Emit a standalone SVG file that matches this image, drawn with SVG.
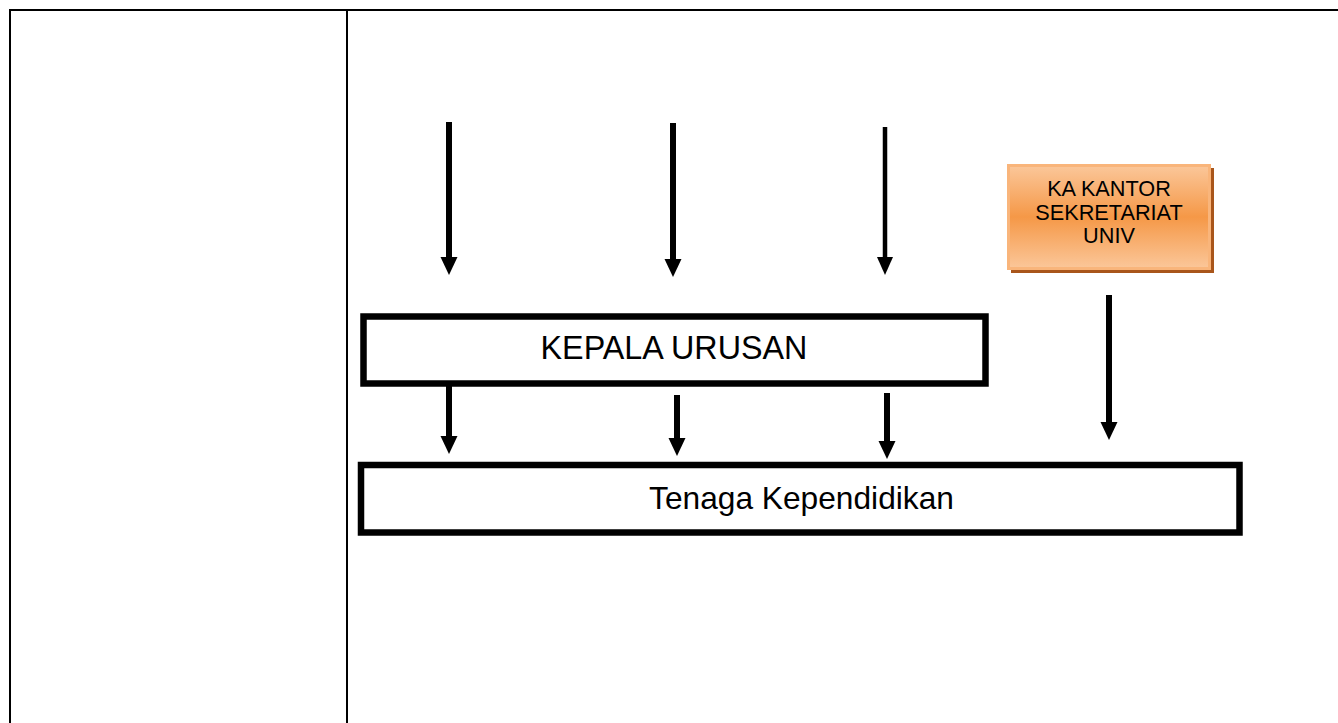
<svg xmlns="http://www.w3.org/2000/svg" width="1338" height="723" viewBox="0 0 1338 723">
<style>
.tbl{stroke:#000;stroke-width:2;fill:none}
.box{fill:#fff;stroke:#000;stroke-width:6.5}
.lbl{font-family:"Liberation Sans",Arial,sans-serif;fill:#000;text-anchor:middle}
.shaft{stroke:#000;stroke-width:6;fill:none}
.head{fill:#000}
</style>
<defs>
<linearGradient id="og" x1="0" y1="0" x2="0" y2="1">
<stop offset="0" stop-color="#fbc79a"/>
<stop offset="0.5" stop-color="#f59847"/>
<stop offset="1" stop-color="#fbc79a"/>
</linearGradient>
</defs>
<rect width="1338" height="723" fill="#fff"/>
<g id="table">
<line class="tbl" x1="10" y1="10" x2="1338" y2="10"/>
<line class="tbl" x1="10" y1="9" x2="10" y2="723"/>
<line class="tbl" x1="347" y1="9" x2="347" y2="723"/>
</g>
<g id="connectors">
<path class="shaft" d="M449,122 V258"/><path class="head" d="M440.5,257 H457.5 L449,275 Z"/>
<path class="shaft" d="M673,123 V260"/><path class="head" d="M664.5,259 H681.5 L673,277 Z"/>
<path class="shaft" d="M885,127 V258" style="stroke-width:4.5"/><path class="head" d="M877,257 H893 L885,275 Z"/>
<path class="shaft" d="M1109,295 V423"/><path class="head" d="M1100.5,422 H1117.5 L1109,440 Z"/>
<path class="shaft" d="M449,386 V437"/><path class="head" d="M440.5,436 H457.5 L449,454 Z"/>
<path class="shaft" d="M677,395 V439"/><path class="head" d="M668.5,438 H685.5 L677,456 Z"/>
<path class="shaft" d="M887,393 V442"/><path class="head" d="M878.5,441 H895.5 L887,459 Z"/>
</g>
<g id="ka-kantor">
<rect x="1011" y="168" width="203" height="105" fill="#a9561b"/>
<rect x="1008.5" y="165.5" width="201" height="103" fill="url(#og)" stroke="#f9b57b" stroke-width="3"/>
<text class="lbl" x="1109" y="196" font-size="21.7">KA KANTOR</text>
<text class="lbl" x="1109" y="219.5" font-size="21.7">SEKRETARIAT</text>
<text class="lbl" x="1109" y="243" font-size="21.7">UNIV</text>
</g>
<g id="kepala-urusan">
<rect class="box" x="363.5" y="316.5" width="622" height="67"/>
<text class="lbl" x="674" y="359" font-size="32.3">KEPALA URUSAN</text>
</g>
<g id="tenaga">
<rect class="box" x="361" y="465" width="878.5" height="67.5"/>
<text class="lbl" x="801.5" y="509" font-size="31.7">Tenaga Kependidikan</text>
</g>
</svg>
